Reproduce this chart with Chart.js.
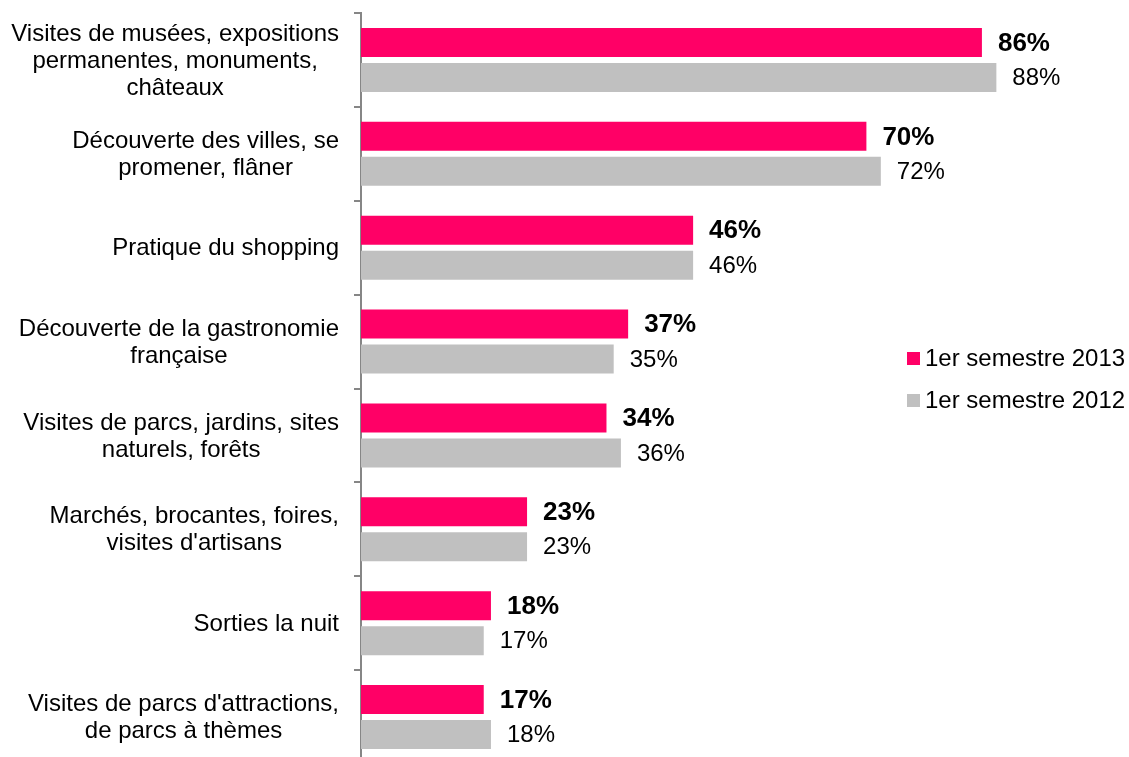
<!DOCTYPE html>
<html lang="fr">
<head>
<meta charset="utf-8">
<title>Activités pratiquées</title>
<script src="https://cdn.jsdelivr.net/npm/chart.js@4/dist/chart.umd.min.js"></script>
<style>
    html, body { margin: 0; padding: 0; background: #fff; overflow: hidden; }
</style>
</head>
<body>
<canvas id="activity-canvas" width="1129" height="764"></canvas>
<script>
const categories = [
    ['Visites de musées, expositions', 'permanentes, monuments,', 'châteaux'],
    ['Découverte des villes, se', 'promener, flâner'],
    ['Pratique du shopping'],
    ['Découverte de la gastronomie', 'française'],
    ['Visites de parcs, jardins, sites', 'naturels, forêts'],
    ['Marchés, brocantes, foires,', "visites d'artisans"],
    ['Sorties la nuit'],
    ["Visites de parcs d'attractions,", 'de parcs à thèmes']
]
const seriesNames = ['1er semestre 2013', '1er semestre 2012']
const values2013 = [86, 70, 46, 37, 34, 23, 18, 17]
const values2012 = [88, 72, 46, 35, 36, 23, 17, 18]
const seriesColors = ['#ff0066', '#c0c0c0']

const fontFamily = '"Liberation Sans", Arial, sans-serif'
const fontSize = 24
const canvas = document.querySelector('#activity-canvas')

// category labels: block right-aligned against the axis, lines centred inside it
const categoryLabels = {
    id: 'categoryLabels',
    afterDraw(chart) {
        const { ctx } = chart
        const yScale = chart.scales.y
        const right = chart.chartArea.left - 22
        const lineHeight = 27
        ctx.save()
        ctx.font = `${fontSize}px ${fontFamily}`
        ctx.fillStyle = '#000'
        ctx.textAlign = 'center'
        ctx.textBaseline = 'middle'
        categories.forEach((lines, i) => {
            const center = yScale.getPixelForValue(i)
            const blockWidth = Math.max(...lines.map(l => ctx.measureText(l).width))
            const x = right - blockWidth / 2
            lines.forEach((line, j) => {
                const y = center + (j - (lines.length - 1) / 2) * lineHeight
                ctx.fillText(line, x, y + 1)
            })
        })
        ctx.restore()
    }
}

const valueLabels = {
    id: 'valueLabels',
    afterDatasetsDraw(chart) {
        const { ctx } = chart
        ctx.save()
        ctx.fillStyle = '#000'
        ctx.textAlign = 'left'
        ctx.textBaseline = 'middle'
        chart.data.datasets.forEach((dataset, d) => {
            ctx.font = d === 0 ? `bold 26px ${fontFamily}` : `${fontSize}px ${fontFamily}`
            chart.getDatasetMeta(d).data.forEach((bar, i) => {
                ctx.fillText(`${dataset.data[i]}%`, bar.x + 16, bar.y + 1)
            })
        })
        ctx.restore()
    }
}

const sideLegend = {
    id: 'sideLegend',
    afterDraw(chart) {
        const { ctx } = chart
        const rows = [358, 400]
        ctx.save()
        ctx.font = `${fontSize}px ${fontFamily}`
        ctx.textBaseline = 'middle'
        chart.data.datasets.forEach((dataset, d) => {
            ctx.fillStyle = dataset.backgroundColor
            ctx.fillRect(907, rows[d] - 6, 13, 13)
            ctx.fillStyle = '#000'
            ctx.fillText(dataset.label, 925, rows[d] + 1)
        })
        ctx.restore()
    }
}

new Chart(canvas, {
    type: 'bar',
    data: {
        labels: categories,
        datasets: [
            {
                label: seriesNames[0],
                data: values2013,
                backgroundColor: seriesColors[0],
                categoryPercentage: 0.745,
                barPercentage: 0.83
            },
            {
                label: seriesNames[1],
                data: values2012,
                backgroundColor: seriesColors[1],
                categoryPercentage: 0.745,
                barPercentage: 0.83
            }
        ]
    },
    options: {
        indexAxis: 'y',
        responsive: false,
        animation: false,
        layout: {
            padding: { top: 13, right: 46, bottom: 0, left: 0 }
        },
        plugins: {
            legend: { display: false },
            tooltip: { enabled: false }
        },
        scales: {
            x: {
                display: false,
                min: 0,
                max: 100
            },
            y: {
                afterFit(scale) {
                    scale.width = 361
                },
                ticks: { display: false },
                border: { display: true, color: '#868686', width: 2 },
                grid: {
                    drawOnChartArea: false,
                    drawTicks: true,
                    tickLength: 7,
                    color: '#868686',
                    lineWidth: 2
                }
            }
        }
    },
    plugins: [categoryLabels, valueLabels, sideLegend]
})
</script>
</body>
</html>
